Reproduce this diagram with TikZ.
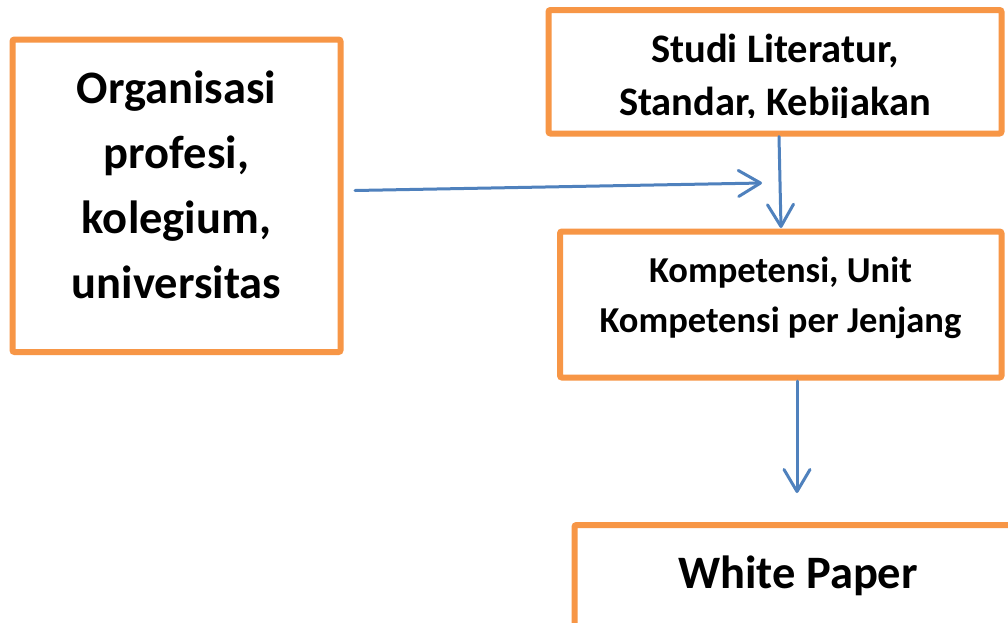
\documentclass[tikz,border=0pt]{standalone}
\usepackage{fontspec}
\setmainfont{Carlito}
\usetikzlibrary{arrows.meta}
\definecolor{boxorange}{HTML}{F79646}
\definecolor{flowblue}{HTML}{4F81BD}
\begin{document}
\begin{tikzpicture}[x=1pt,y=-1pt,
  box/.style={draw=boxorange,line width=6pt,rounded corners=2pt,fill=white,inner sep=0pt},
  lbl/.style={inner sep=0pt,anchor=base,font=\bfseries},
  flow/.style={draw=flowblue,line width=3pt,line cap=round,
    -{Straight Barb[length=22pt,width=26pt,line width=3pt,round]}}]
\clip (0,0) rectangle (1008,622);
\fill[white] (0,0) rectangle (1008,622);

% boxes
\node[box,minimum width=328pt,minimum height=312.5pt] (org) at (176.5,195.75) {};
\node[box,minimum width=453pt,minimum height=123.5pt] (studi) at (775,71.75) {};
\node[box,minimum width=441.5pt,minimum height=146pt] (komp) at (780.75,304.5) {};
\node[box,minimum width=447pt,minimum height=140pt] (wp) at (798,595) {};

% labels
\node[lbl] (orgtext) at (176.5,103) {\fontsize{46.5}{65}\selectfont
  \begin{tabular}[t]{@{}c@{}}Organisasi\\ profesi,\\ kolegium,\\ universitas\end{tabular}};
\begin{scope}
  % the second line's descenders are cut off inside the frame
  \clip (550,12) rectangle (1000,117);
  \node[lbl] (studitext) at (775,62) {\fontsize{40.5}{53}\selectfont
    \begin{tabular}[t]{@{}c@{}}Studi Literatur,\\ Standar, Kebijakan\end{tabular}};
\end{scope}
\node[lbl] (komptext) at (780.5,282) {\fontsize{36.5}{50}\selectfont
  \begin{tabular}[t]{@{}c@{}}Kompetensi, Unit\\ Kompetensi per Jenjang\end{tabular}};
\node[lbl] (wptext) at (798,588) {\fontsize{46.5}{55}\selectfont White Paper};

% connectors
\coordinate (hstart) at (355,190.5);
\coordinate (hend) at (762,183);
\draw[flow] (hstart) -- (hend);
\draw[flow] (studi.south -| 779,0) -- (781,228) coordinate (vend);
\coordinate (kstart) at (797,381);
\coordinate (kend) at (797,493);
\draw[flow] (kstart) -- (kend);
\end{tikzpicture}
\end{document}
